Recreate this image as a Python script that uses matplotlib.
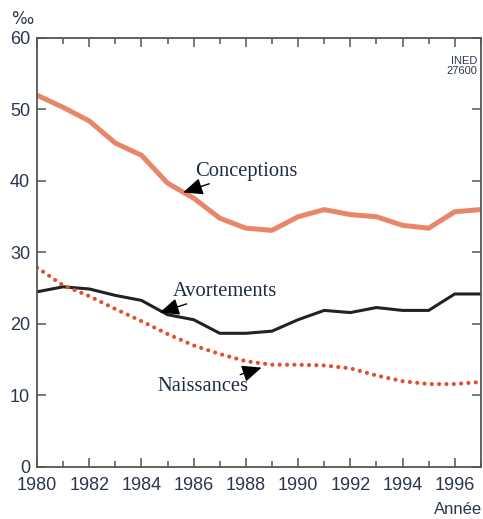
import matplotlib
matplotlib.use("Agg")
import matplotlib.pyplot as plt

years = list(range(1980, 1998))
conceptions = [52.0, 50.3, 48.4, 45.3, 43.6, 39.7, 37.6, 34.8, 33.4, 33.1,
               35.0, 36.0, 35.3, 35.0, 33.8, 33.4, 35.7, 36.0]
avortements = [24.5, 25.2, 24.9, 24.0, 23.3, 21.3, 20.6, 18.7, 18.7, 19.0,
               20.6, 21.9, 21.6, 22.3, 21.9, 21.9, 24.2, 24.2]
naissances = [27.9, 25.4, 23.9, 22.1, 20.4, 18.6, 17.0, 15.8, 14.8, 14.3,
              14.3, 14.2, 13.8, 12.8, 12.0, 11.6, 11.6, 11.9]
major_years = list(range(1980, 1998, 2))
y_ticks = [0, 10, 20, 30, 40, 50, 60]

frame = "#555555"
label_col = "#2b3550"

fig = plt.figure(figsize=(4.83, 5.19), dpi=100)
ax = fig.add_axes([0.0766, 0.1002, 0.919, 0.8266])

ax.plot(years, conceptions, color="#e8866a", lw=3.6, solid_joinstyle="round")
ax.plot(years, avortements, color="#222222", lw=2.2)
ax.plot(years, naissances, color="#e0502e", lw=3.0,
        linestyle=(0, (0.01, 1.75)), dash_capstyle="round")

ax.set_xlim(1980, 1997)
ax.set_ylim(0, 60)
ax.set_xticks(major_years)
ax.set_xticks(range(1981, 1998, 2), minor=True)
ax.set_yticks(y_ticks)
ax.tick_params(which="both", direction="in", top=True, right=True,
               color=frame, width=1.1, labelsize=13, labelcolor=label_col)
ax.tick_params(which="major", length=6.5, pad=7)
ax.tick_params(which="minor", length=4.3)
ax.tick_params(axis="y", pad=5)
for s in ax.spines.values():
    s.set_color(frame)
    s.set_linewidth(1.3)

serif = {"family": "Liberation Serif", "size": 14.8, "color": "#1f2a48"}
arrow = dict(arrowstyle="-|>,head_length=0.8,head_width=0.35", color="black",
             lw=1.0, shrinkA=0, shrinkB=0)
ax.annotate("Conceptions", xy=(1985.6, 38.4), xytext=(1986.05, 40.0),
            va="bottom", ha="left", arrowprops=arrow, **serif)
ax.annotate("Avortements", xy=(1984.7, 21.6), xytext=(1985.2, 23.2),
            va="bottom", ha="left", arrowprops=arrow, **serif)
ax.annotate("Naissances", xy=(1988.6, 13.9), xytext=(1988.1, 11.2),
            va="center", ha="right", arrowprops=arrow, **serif)

fig.text(0.988, 0.893, "INED\n27600", ha="right", va="top", fontsize=8,
         color=label_col, family="Liberation Sans", linespacing=1.1)
fig.text(0.024, 0.963, "‰", fontsize=12, color=label_col, va="center")
fig.text(0.998, 0.018, "Année", fontsize=12, color=label_col, va="center",
         ha="right", family="Liberation Sans")

for lab in ax.get_xticklabels() + ax.get_yticklabels():
    lab.set_family("Liberation Sans")

fig.savefig("out.png", dpi=100)
